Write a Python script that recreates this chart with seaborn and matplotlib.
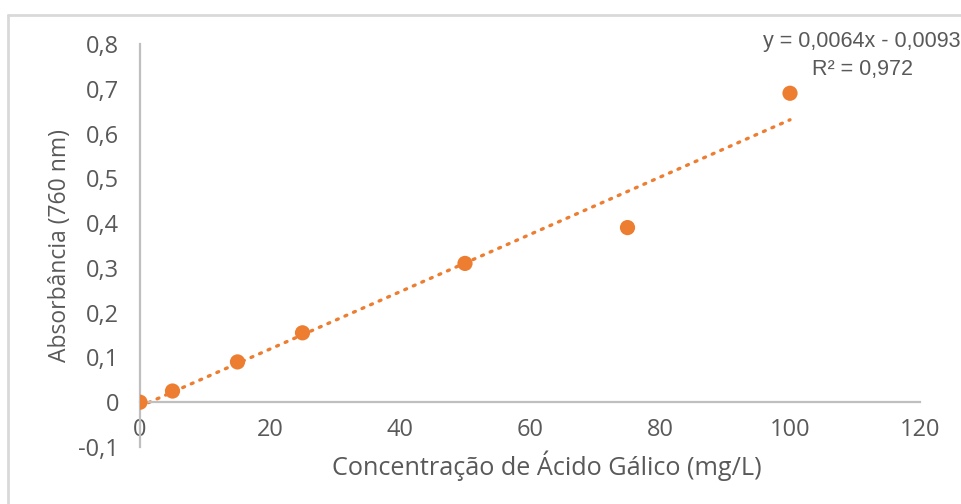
import matplotlib
matplotlib.use("Agg")
import matplotlib.pyplot as plt
from matplotlib.lines import Line2D
import numpy as np
import pandas as pd
import seaborn as sns

# Calibration data: gallic acid standards
concentracao = [0, 5, 15, 25, 50, 75, 100]
absorbancia = [0.0, 0.025, 0.09, 0.155, 0.31, 0.39, 0.69]

# Linear trendline reported for the curve
inclinacao = 0.0064
intercepto = -0.0093
r2 = 0.972

x_ticks = [0, 20, 40, 60, 80, 100, 120]
y_ticks = [-0.1, 0, 0.1, 0.2, 0.3, 0.4, 0.5, 0.6, 0.7, 0.8]

sns.set_theme(style="white")
plt.rcParams["font.family"] = ["Open Sans", "DejaVu Sans"]

laranja = "#ED7D31"
cinza_txt = "#595959"
cinza_eixo = "#BFBFBF"

df = pd.DataFrame({"conc": concentracao, "abs": absorbancia})

fig = plt.figure(figsize=(9.61, 5.04), dpi=100)
ax = fig.add_axes([140 / 961, 1 - 447 / 504, 780 / 961, 403 / 504])

# Trendline from the fitted equation
xl = np.array([concentracao[0], concentracao[-1]], dtype=float)
ax.plot(xl, inclinacao * xl + intercepto, color=laranja, lw=2.4,
        linestyle=(0, (0.6, 2.2)), dash_capstyle="round", zorder=2)

sns.scatterplot(data=df, x="conc", y="abs", ax=ax, color=laranja, s=120,
                edgecolor="none", zorder=3, legend=False)

ax.set_xlim(0, 120)
ax.set_ylim(-0.1, 0.8)
ax.set_xticks(x_ticks)
ax.set_yticks(y_ticks)
ax.set_xticklabels([str(t) for t in x_ticks])
ax.set_yticklabels([("%g" % t).replace(".", ",") for t in y_ticks])

for s in ["top", "right"]:
    ax.spines[s].set_visible(False)
ax.spines["bottom"].set_position(("data", 0))
ax.spines["bottom"].set_color(cinza_eixo)
ax.spines["left"].set_color(cinza_eixo)
ax.spines["bottom"].set_linewidth(1.6)
ax.spines["left"].set_linewidth(1.6)

ax.tick_params(axis="both", length=0, labelsize=17, colors=cinza_txt)
ax.tick_params(axis="x", pad=11)
ax.tick_params(axis="y", pad=15)

ax.set_xlabel("Concentração de Ácido Gálico (mg/L)", fontsize=18.2, color=cinza_txt)
ax.set_ylabel("Absorbância (760 nm)", fontsize=16.5, color=cinza_txt)
ax.xaxis.set_label_coords((547 - 140) / 780, -(466 - 447) / 403, transform=ax.transAxes)
ax.xaxis.label.set_va("center")
ax.yaxis.set_label_coords(-(140 - 60) / 780, 0.5, transform=ax.transAxes)
ax.yaxis.label.set_va("center")

ax.grid(False)

fig.text(763 / 961, 1 - 42 / 504, "y = 0,0064x - 0,0093", fontsize=15.5,
         color=cinza_txt, ha="left", va="center", family=["Liberation Sans", "DejaVu Sans"])
fig.text(863 / 961, 1 - 70 / 504, "R² = 0,972", fontsize=15.5,
         color=cinza_txt, ha="center", va="center", family=["Liberation Sans", "DejaVu Sans"])

# Chart frame (top and left edges)
fig.add_artist(Line2D([8 / 961, 1], [1 - 15 / 504, 1 - 15 / 504],
                      transform=fig.transFigure, color="#D9D9D9", lw=2))
fig.add_artist(Line2D([8 / 961, 8 / 961], [0, 1 - 15 / 504],
                      transform=fig.transFigure, color="#D9D9D9", lw=2))

fig.savefig("out.png", dpi=100, facecolor="white")
